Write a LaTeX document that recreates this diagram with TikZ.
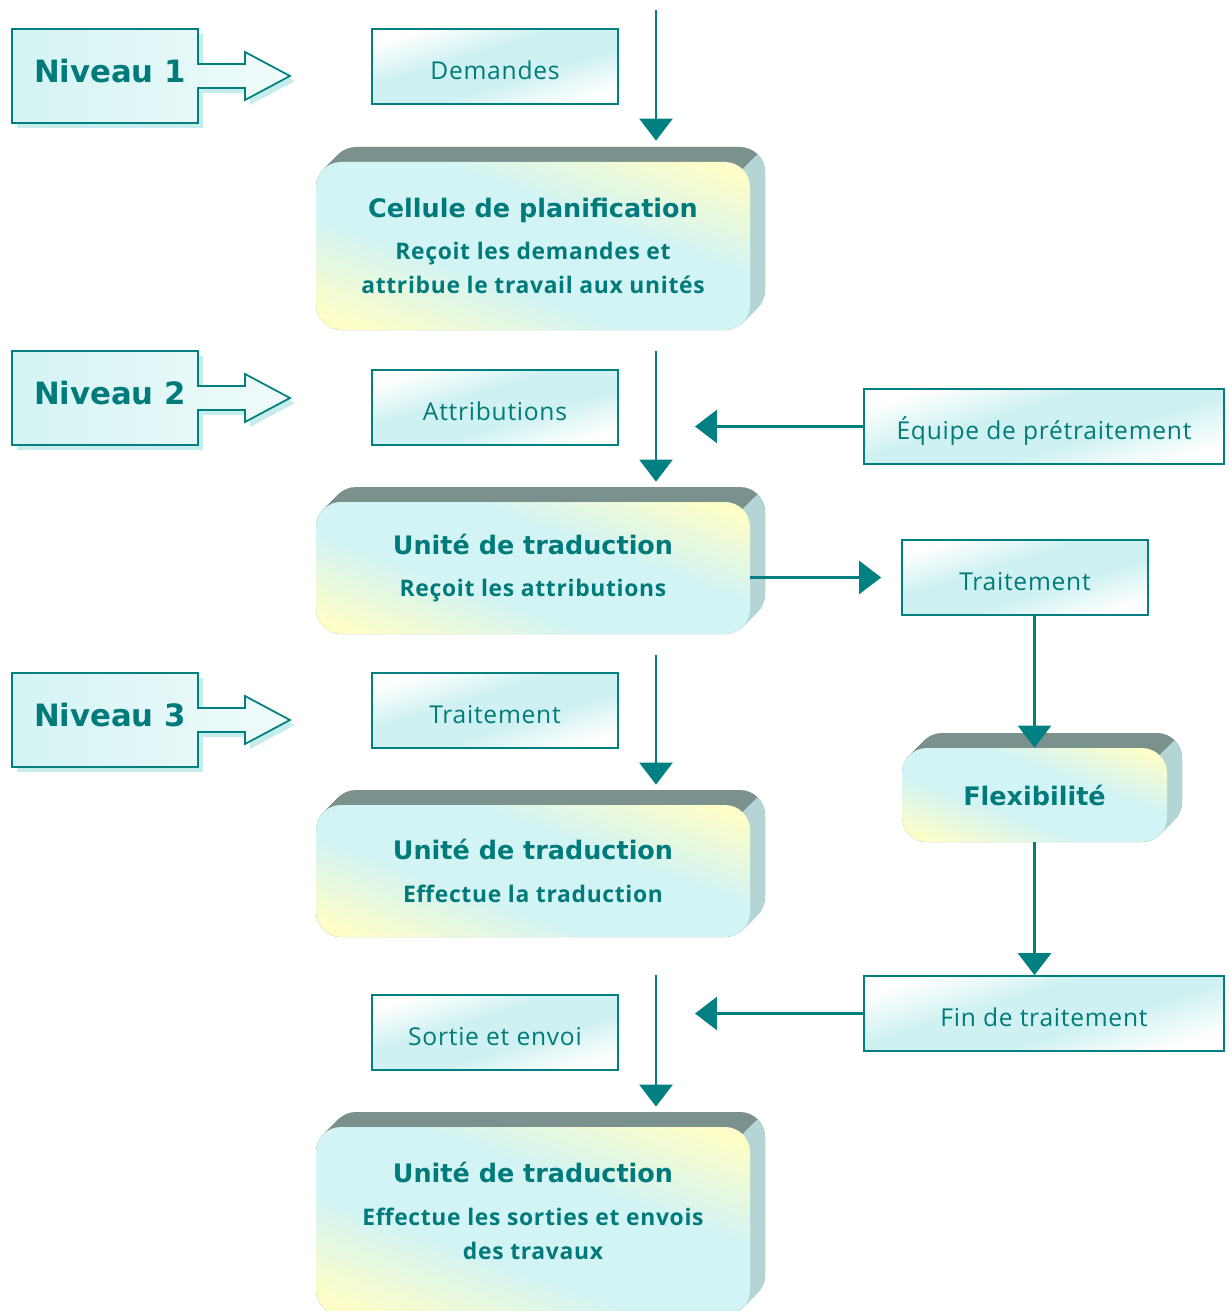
\documentclass[tikz,border=0pt]{standalone}
\usepackage{fontspec}
\setmainfont{Open Sans}
\newfontfamily\titlefont{DejaVu Sans}
\newfontfamily\labelfont[LetterSpace=3]{Open Sans}
\usetikzlibrary{arrows.meta,calc,positioning}

\definecolor{tealline}{HTML}{008080}
\definecolor{tealtext}{HTML}{007A7A}
\definecolor{labelcyan}{HTML}{CFF1F1}
\definecolor{nivcyan}{HTML}{D4F3F3}
\definecolor{nivshade}{HTML}{C6ECEC}
\definecolor{topgray}{HTML}{7B918D}
\definecolor{sidegray}{HTML}{B4D5D5}
\definecolor{frontcyan}{HTML}{D3F4F4}
\definecolor{frontyellow}{HTML}{FCFDC8}

\pgfdeclareverticalshading{frontshade}{100bp}{color(0bp)=(frontyellow); color(22bp)=(frontyellow); color(40bp)=(frontcyan); color(60bp)=(frontcyan); color(78bp)=(frontyellow); color(100bp)=(frontyellow)}
\pgfdeclareverticalshading{labelshade}{100bp}{color(0bp)=(white); color(25bp)=(white); color(42bp)=(labelcyan); color(58bp)=(labelcyan); color(75bp)=(white); color(100bp)=(white)}

\tikzstyle{every node}+=[inner sep=0.5mm]
\tikzstyle{flow}=[draw=tealline,line width=1.5pt,-{Triangle[width=0.66cm,length=0.44cm]}]
\tikzstyle{labelbox}=[draw=tealline,line width=1pt,shading=labelshade,shading angle=17,minimum height=1.5cm,text height=15pt,text depth=0pt,text=tealtext,font=\labelfont\fontsize{14}{17}\selectfont]
\tikzstyle{shortbox}=[labelbox,minimum width=4.92cm]
\tikzstyle{longbox}=[labelbox,minimum width=7.2cm]
\tikzstyle{nivshape}=[draw=tealline,line width=1pt,left color=nivcyan,right color=nivcyan!35]
\tikzstyle{nivtext}=[text=tealtext,font=\titlefont\bfseries\fontsize{17.5}{20}\selectfont]
\tikzstyle{topface}=[fill=topgray,rounded corners=0.5cm]
\tikzstyle{sideface}=[fill=sidegray,rounded corners=0.5cm]
\tikzstyle{frontface}=[rounded corners=0.5cm,shading=frontshade,shading angle=-20]
\tikzstyle{bigtext}=[align=center,text=tealtext,inner sep=0pt,font=\labelfont\bfseries\fontsize{13}{19.3}\selectfont]

\newcommand{\titleline}[1]{{\titlefont\bfseries\fontsize{14.5}{18}\selectfont #1}}

% level tag with its block arrow
\newcommand{\nivpath}[1]{({12},{#1-47}) -- ({198},{#1-47}) -- ({198},{#1-12}) -- ({245},{#1-12}) -- ({245},{#1-24})
	-- ({290},{#1}) -- ({245},{#1+24}) -- ({245},{#1+12}) -- ({198},{#1+12}) -- ({198},{#1+47}) -- ({12},{#1+47}) -- cycle}
\newcommand{\niveau}[3]{
	\fill[nivshade,shift={(5,5)}] \nivpath{#2};
	\shade[nivshape] \nivpath{#2};
	\node[nivtext] (#1) at (110,{#2-5}) {#3};
}

% raised box: [extra bottom]{name}{cx}{cy}{width}{height}{text}
\newcommand{\bigbox}[7][0]{
	\foreach \k in {0,...,15}{
		\fill[topface] ({#3-#5/2+\k},{#4-#6/2-\k}) rectangle ({#3+#5/2+\k},{#4+#6/2+#1-\k});
	}
	\begin{scope}
		\clip ({#3+#5/2-8},{#4-#6/2+8}) -- ++(120,-120) |- ({#3+#5/2-8},{#4+#6/2+#1+40}) -- cycle;
		\foreach \k in {0,...,15}{
			\fill[sideface] ({#3-#5/2+\k},{#4-#6/2-\k}) rectangle ({#3+#5/2+\k},{#4+#6/2+#1-\k});
		}
	\end{scope}
	\shade[frontface] ({#3-#5/2},{#4-#6/2}) rectangle ({#3+#5/2},{#4+#6/2+#1});
	\node[bigtext,minimum width=#5*0.02cm,minimum height=#6*0.02cm] (#2) at (#3,#4) {#7};
}

\newcommand{\drawarrows}[2][\empty]{
	\foreach \a/\b in {#2}{
		\draw[flow,#1] (\a) -- (\b);
	}
}

\begin{document}
\begin{tikzpicture}[x=0.02cm,y=-0.02cm]
\useasboundingbox (0,0) rectangle (1229,1311);

\niveau{niv1}{76}{Niveau 1}
\niveau{niv2}{398}{Niveau 2}
\niveau{niv3}{720}{Niveau 3}

\bigbox{cellule}{533}{246}{434}{168}{\titleline{Cellule de planification}\\[5pt]Reçoit les demandes et\\attribue le travail aux unités}
\bigbox{unite1}{533}{568}{434}{132}{\titleline{Unité de traduction}\\[5pt]Reçoit les attributions}
\bigbox{unite2}{533}{871}{434}{132}{\titleline{Unité de traduction}\\[5pt]Effectue la traduction}
\bigbox[20]{unite3}{533}{1211}{434}{168}{\titleline{Unité de traduction}\\[5pt]Effectue les sorties et envois\\des travaux}
\bigbox{flex}{1034.5}{795}{265}{94}{\titleline{Flexibilité}}

\node[shortbox] (demandes) at (495,66.5) {Demandes};
\node[shortbox] (attrib) at (495,407.5) {Attributions};
\node[shortbox] (traitA) at (495,710.5) {Traitement};
\node[shortbox] (sortie) at (495,1032.5) {Sortie et envoi};
\node[longbox] (equipe) at (1044,426.5) {Équipe de prétraitement};
\node[shortbox] (traitB) at (1025,577.5) {Traitement};
\node[longbox] (fin) at (1044,1013.5) {Fin de traitement};

\coordinate (spine) at (656,10);
\draw[flow,shorten >=0.42cm] (spine) -- (cellule.north -| spine);
\drawarrows[shorten <=0.42cm,shorten >=0.4cm]{cellule.south -| spine/unite1.north -| spine,unite1.south -| spine/unite2.north -| spine}
\draw[flow,shorten >=0.4cm] (fin.north -| spine) -- (unite3.north -| spine);
\drawarrows[shorten >=0.78cm]{equipe.west/equipe.west -| spine,fin.west/fin.west -| spine}
\draw[flow,shorten >=0.4cm] (traitB.west -| unite1.east) -- (traitB.west);
\drawarrows{traitB.south -| flex/flex.north,flex.south/fin.north -| flex}
\end{tikzpicture}
\end{document}
